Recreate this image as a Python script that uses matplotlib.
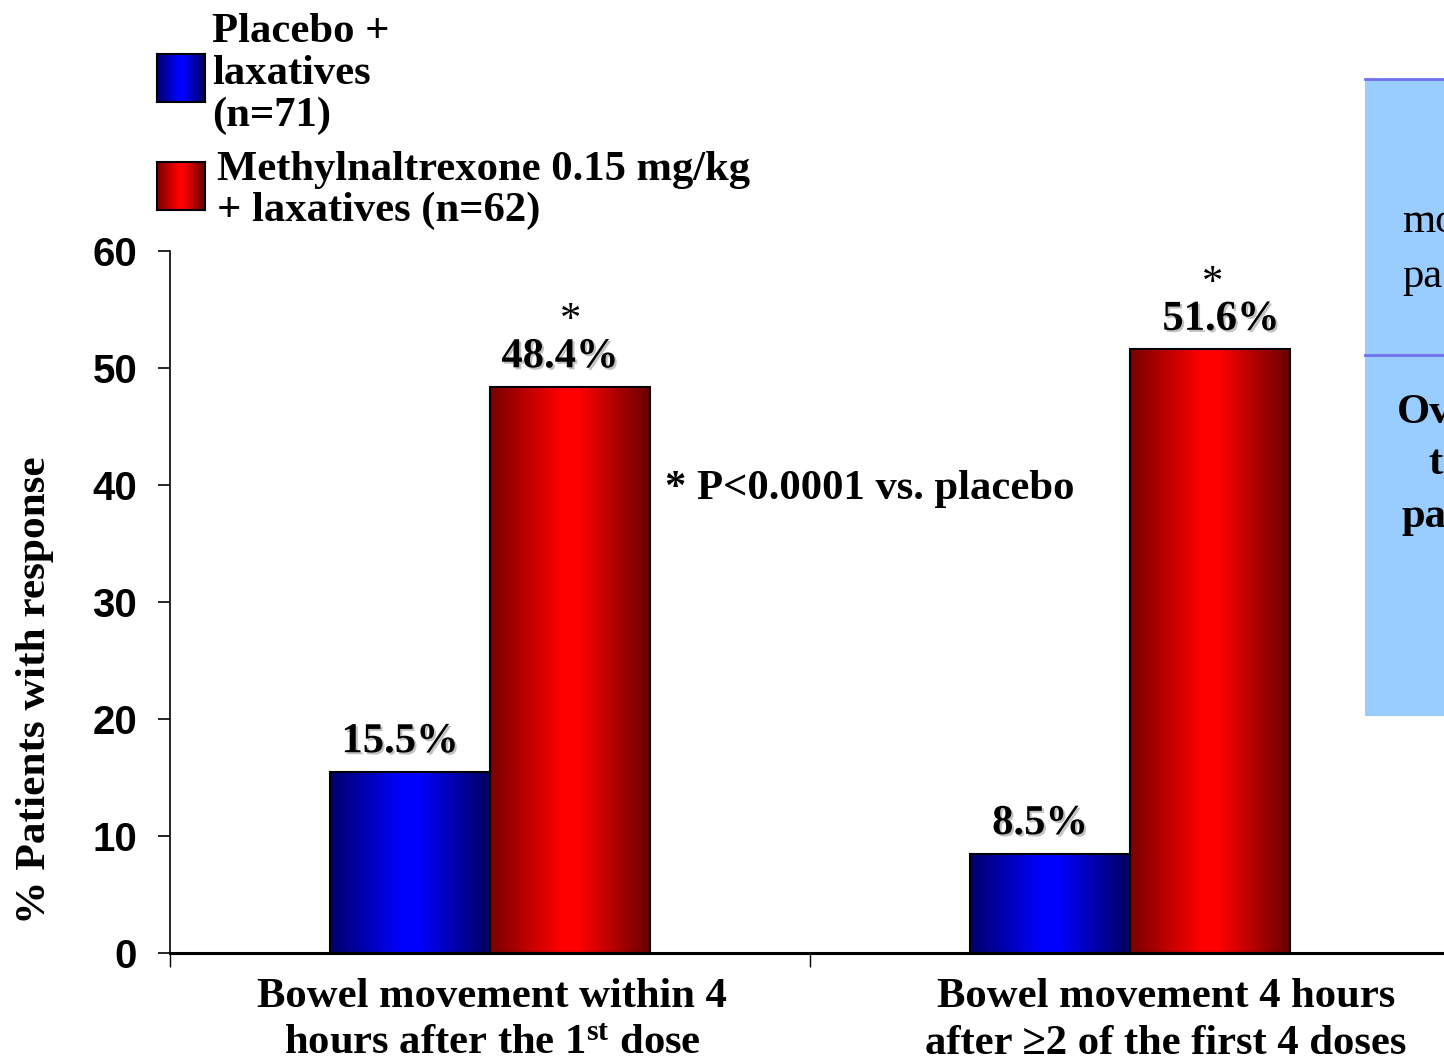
import numpy as np
import matplotlib
matplotlib.use("agg")
import matplotlib.pyplot as plt
import matplotlib.patheffects as pe
from matplotlib.colors import LinearSegmentedColormap
from matplotlib.patches import Rectangle

plt.rcParams['font.family'] = ['Liberation Serif', 'DejaVu Serif']
plt.rcParams['font.weight'] = 'bold'
plt.rcParams['mathtext.fontset'] = 'custom'
plt.rcParams['mathtext.rm'] = 'Liberation Serif:bold'
plt.rcParams['mathtext.bf'] = 'Liberation Serif:bold'
plt.rcParams['mathtext.it'] = 'Liberation Serif:bold:italic'

# data
groups = ["Placebo + laxatives (n=71)", "Methylnaltrexone 0.15 mg/kg + laxatives (n=62)"]
placebo = [15.5, 8.5]
mntx = [48.4, 51.6]
cat_line1 = ["Bowel movement within 4", "Bowel movement 4 hours"]
cat_line2 = [r"hours after the 1$^{\mathrm{st}}$ dose", "after \u22652 of the first 4 doses"]
yticks = [0, 10, 20, 30, 40, 50, 60]
note = "* P<0.0001 vs. placebo"

FS = 30.7
W, H = 1444, 1062
fig = plt.figure(figsize=(W / 100, H / 100), dpi=100)

def fx(px):
    return px / W

def fy(py):
    return 1 - py / H

ax = fig.add_axes([fx(170), fy(953), 1280 / W, (953 - 251) / H])

blue_cmap = LinearSegmentedColormap.from_list(
    "b", [(0, "#000068"), (0.45, "#0000ff"), (0.55, "#0000ff"), (1, "#000060")])
red_cmap = LinearSegmentedColormap.from_list(
    "r", [(0, "#780000"), (0.45, "#ff0000"), (0.55, "#ff0000"), (1, "#680000")])
grad = np.linspace(0, 1, 256).reshape(1, -1)

bw = 0.25
centers = np.arange(len(placebo)) + 0.5
for series, sign, cmap in [(placebo, -1, blue_cmap), (mntx, 1, red_cmap)]:
    xs = centers + sign * bw / 2
    bars = ax.bar(xs, series, width=bw, fill=False, edgecolor="black",
                  linewidth=1.5, zorder=3)
    for b in bars:
        ax.imshow(grad, cmap=cmap, aspect="auto", zorder=2,
                  extent=[b.get_x(), b.get_x() + b.get_width(), 0, b.get_height()])

shadow = [pe.withSimplePatchShadow(offset=(1.5, -1.5), shadow_rgbFace="#999999", alpha=0.6)]
lab_dx = [(-10, -10), (-10, 11)]   # px offsets placebo / mntx per group
star_dx = [1, 3]
for i in range(len(placebo)):
    ax.annotate(f"{placebo[i]}%", (centers[i] - bw / 2, placebo[i]),
                xytext=(lab_dx[i][0] * 0.72, 14), textcoords="offset points",
                ha="center", va="baseline", fontsize=FS, fontweight="bold",
                path_effects=shadow, zorder=4)
    ax.annotate(f"{mntx[i]}%", (centers[i] + bw / 2, mntx[i]),
                xytext=(lab_dx[i][1] * 0.72, 14), textcoords="offset points",
                ha="center", va="baseline", fontsize=FS, fontweight="bold",
                path_effects=shadow, zorder=4)
    ax.annotate("*", (centers[i] + bw / 2, mntx[i]),
                xytext=(star_dx[i] * 0.72, 40), textcoords="offset points",
                ha="center", va="baseline", fontsize=FS, fontweight="normal", zorder=4)

ax.set_xlim(0, 2)
ax.set_ylim(0, 60)
ax.set_yticks(yticks)
ax.set_yticklabels([str(v) for v in yticks], family=["Liberation Sans Narrow", "Liberation Sans"],
                   fontsize=29, fontweight="bold")
ax.tick_params(axis="y", direction="out", length=8.6, width=1.2, pad=15)
ax.set_xticks([0, 1, 2])
ax.set_xticklabels([])
ax.tick_params(axis="x", direction="out", length=10, width=1.0)
for s in ["top", "right"]:
    ax.spines[s].set_visible(False)
ax.spines["bottom"].set_linewidth(2.2)
ax.spines["left"].set_linewidth(1.2)

# category labels
cat_x = [492, 1166]
for i in range(2):
    fig.text(fx(cat_x[i]), fy(1007), cat_line1[i], ha="center", va="baseline", fontsize=FS)
    fig.text(fx(cat_x[i]), fy(1054), cat_line2[i], ha="center", va="baseline", fontsize=FS)

fig.text(fx(35), fy(690), "% Patients with response", rotation=90,
         ha="center", va="center", fontsize=FS + 0.5)
fig.text(fx(665), fy(499), note, ha="left", va="baseline", fontsize=FS)

# legend
leg = [(blue_cmap, 54, 212, ["Placebo +", "laxatives", "(n=71)"], [42, 84, 126]),
       (red_cmap, 162, 217, ["Methylnaltrexone 0.15 mg/kg", "+ laxatives (n=62)"], [180, 221])]
for cmap, top, tx, lines, bases in leg:
    la = fig.add_axes([fx(157), fy(top + 48), 48 / W, 48 / H])
    la.imshow(grad, cmap=cmap, aspect="auto")
    la.set_xticks([])
    la.set_yticks([])
    for s in la.spines.values():
        s.set_linewidth(1.5)
    for ln, bl in zip(lines, bases):
        fig.text(fx(tx), fy(bl), ln, ha="left", va="baseline", fontsize=FS)

# right-hand panel (cut off at the edge)
fig.patches.append(Rectangle((fx(1365), fy(716)), 1.0, fy(79) - fy(716),
                             transform=fig.transFigure, facecolor="#99ccff",
                             edgecolor="none", zorder=0))
for yy in [79, 355]:
    fig.lines.append(plt.Line2D([fx(1365), 1.0], [fy(yy), fy(yy)], transform=fig.transFigure,
                                color="#6f6fef", linewidth=2))
fig.text(fx(1402), fy(232), "mo", fontsize=FS, fontweight="normal", va="baseline")
fig.text(fx(1402), fy(287), "pa", fontsize=FS, fontweight="normal", va="baseline")
fig.text(fx(1397), fy(423), "Ov", fontsize=FS, va="baseline")
fig.text(fx(1428), fy(474), "t", fontsize=FS, va="baseline")
fig.text(fx(1402), fy(527), "pa", fontsize=FS, va="baseline")

fig.savefig("out.png", dpi=100)
